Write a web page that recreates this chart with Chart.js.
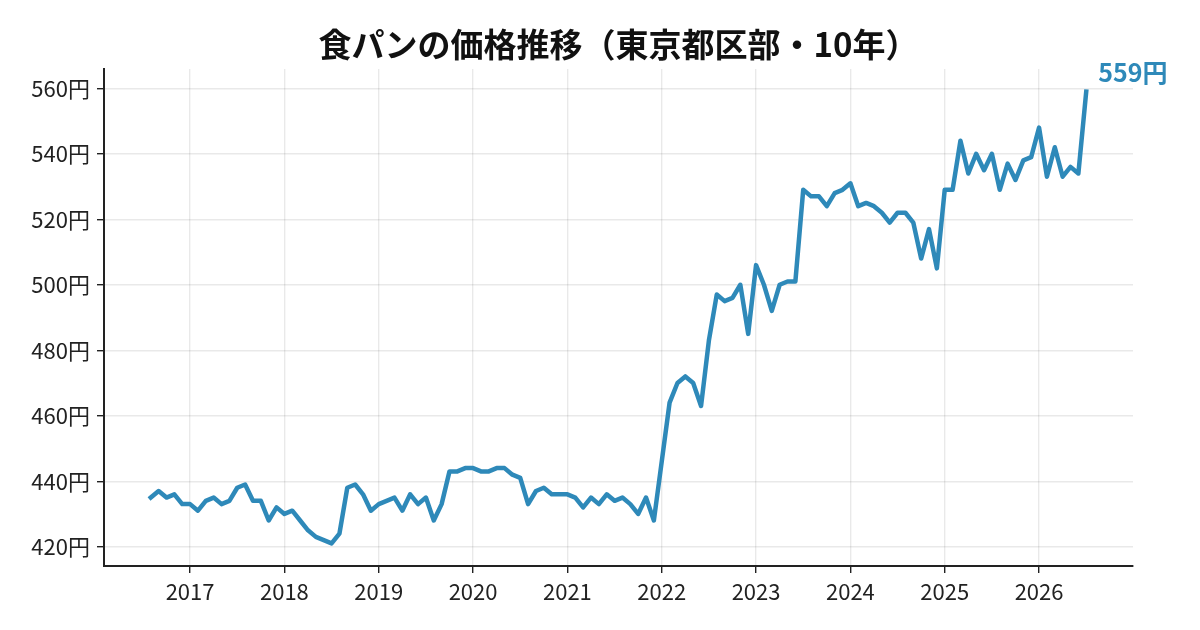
<!DOCTYPE html>
<html>
<head>
<meta charset="utf-8">
<script src="https://cdn.jsdelivr.net/npm/chart.js@4/dist/chart.umd.min.js"></script>
<style>
  html, body { margin: 0; padding: 0; background: #fff; }
  canvas { display: block; }
</style>
</head>
<body>
<canvas id="breadChart" width="1200" height="630"></canvas>
<script>
// monthly price of bread, Aug 2016 .. Jul 2026 (yen)
const startYear = 2016;
const startMonth = 8;
const prices = [
  435, 437, 435, 436, 433,
  433, 431, 434, 435, 433, 434, 438, 439, 434, 434, 428, 432,
  430, 431, 428, 425, 423, 422, 421, 424, 438, 439, 436, 431,
  433, 434, 435, 431, 436, 433, 435, 428, 433, 443, 443, 444,
  444, 443, 443, 444, 444, 442, 441, 433, 437, 438, 436, 436,
  436, 435, 432, 435, 433, 436, 434, 435, 433, 430, 435, 428,
  446, 464, 470, 472, 470, 463, 483, 497, 495, 496, 500, 485,
  506, 500, 492, 500, 501, 501, 529, 527, 527, 524, 528, 529,
  531, 524, 525, 524, 522, 519, 522, 522, 519, 508, 517, 505,
  529, 529, 544, 534, 540, 535, 540, 529, 537, 532, 538, 539,
  548, 533, 542, 533, 536, 534, 559
];
const yearTicks = [2017, 2018, 2019, 2020, 2021, 2022, 2023, 2024, 2025, 2026];
const priceTicks = [420, 440, 460, 480, 500, 520, 540, 560];
const titleText = '食パンの価格推移（東京都区部・10年）';

const lineColor = '#2e89b9';
const font = '"Noto Sans CJK JP", "Noto Sans", sans-serif';

// x as fractional year, one point per month
const points = prices.map((v, i) => ({
  x: startYear + (startMonth - 1 + i) / 12,
  y: v
}));

// 5% margin around the data, like the original axes
const xFirst = points[0].x, xLast = points[points.length - 1].x;
const xPad = (xLast - xFirst) * 0.05;
const yMin = Math.min(...prices), yMax = Math.max(...prices);
const yPad = (yMax - yMin) * 0.05;

const annotations = {
  id: 'annotations',
  afterDraw(chart) {
    const ctx = chart.ctx;
    const area = chart.chartArea;
    ctx.save();
    // title centred over the plot area
    ctx.fillStyle = '#111';
    ctx.font = 'bold 33px ' + font;
    ctx.textAlign = 'center';
    ctx.textBaseline = 'middle';
    ctx.fillText(titleText, (area.left + area.right) / 2, 44);

    // last value next to the end of the line
    const meta = chart.getDatasetMeta(0);
    const last = meta.data[meta.data.length - 1];
    ctx.fillStyle = lineColor;
    ctx.font = 'bold 25px ' + font;
    ctx.textAlign = 'left';
    ctx.fillText(prices[prices.length - 1] + '円', last.x + 12, last.y - 19);
    ctx.restore();
  }
};

new Chart(document.getElementById('breadChart'), {
  type: 'line',
  data: {
    datasets: [{
      data: points,
      borderColor: lineColor,
      borderWidth: 4.5,
      borderJoinStyle: 'round',
      borderCapStyle: 'square',
      pointRadius: 0,
      tension: 0,
      fill: false,
      clip: false
    }]
  },
  options: {
    responsive: false,
    animation: false,
    devicePixelRatio: 1,
    layout: { padding: { top: 69, right: 67, bottom: 0, left: 0 } },
    plugins: {
      legend: { display: false },
      title: { display: false },
      tooltip: { enabled: false }
    },
    scales: {
      x: {
        type: 'linear',
        min: xFirst - xPad,
        max: xLast + xPad,
        afterBuildTicks: (scale) => { scale.ticks = yearTicks.map(v => ({ value: v })); },
        afterFit: (scale) => { scale.height = 64; },
        grid: { color: 'rgba(0,0,0,0.085)', lineWidth: 1.4, tickColor: '#222', tickLength: 7 },
        border: { color: '#222', width: 2 },
        ticks: {
          color: '#222',
          padding: 5,
          maxRotation: 0,
          font: { family: font, size: 22 },
          callback: (v) => String(v)
        }
      },
      y: {
        min: yMin - yPad,
        max: yMax + yPad,
        afterBuildTicks: (scale) => { scale.ticks = priceTicks.map(v => ({ value: v })); },
        afterFit: (scale) => { scale.width = 104; },
        grid: { color: 'rgba(0,0,0,0.085)', lineWidth: 1.4, tickColor: '#222', tickLength: 7 },
        border: { color: '#222', width: 2 },
        ticks: {
          color: '#222',
          padding: 7,
          font: { family: font, size: 22 },
          callback: (v) => v + '円'
        }
      }
    }
  },
  plugins: [annotations]
});
</script>
</body>
</html>
